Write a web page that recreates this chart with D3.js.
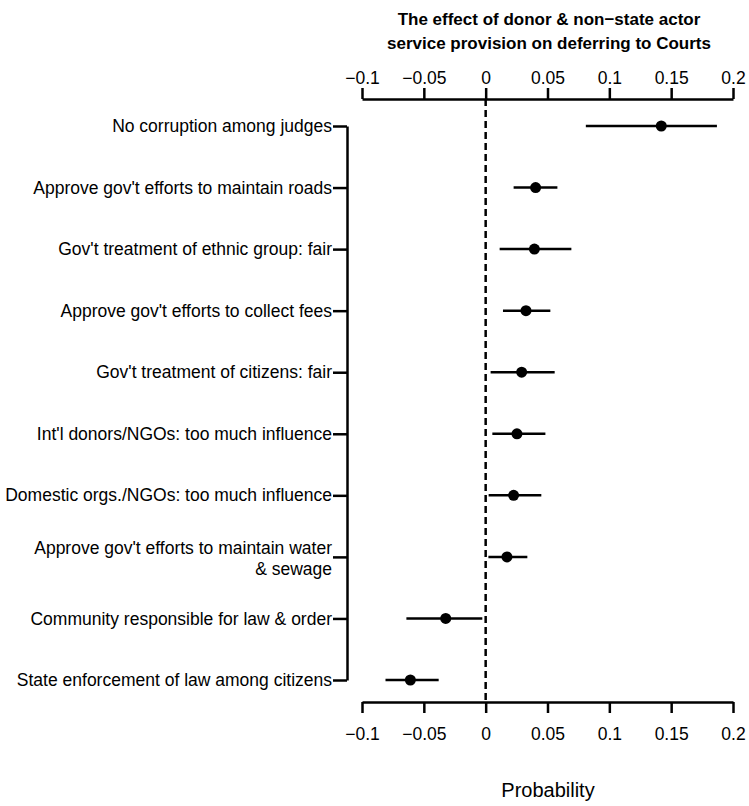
<!DOCTYPE html>
<html><head><meta charset="utf-8">
<script src="https://cdn.jsdelivr.net/npm/d3@7"></script>
<style>body{margin:0;background:#fff} text{font-family:"Liberation Sans",Arial,Helvetica,sans-serif;fill:#000}</style>
</head><body><svg id="c" width="749" height="806"></svg>
<script>
const categories = [
  "No corruption among judges",
  "Approve gov't efforts to maintain roads",
  "Gov't treatment of ethnic group: fair",
  "Approve gov't efforts to collect fees",
  "Gov't treatment of citizens: fair",
  "Int'l donors/NGOs: too much influence",
  "Domestic orgs./NGOs: too much influence",
  "Approve gov't efforts to maintain water\n& sewage",
  "Community responsible for law & order",
  "State enforcement of law among citizens"
];
const estimates = [0.142, 0.0404, 0.0394, 0.0326, 0.0291, 0.0253, 0.0226, 0.0172, -0.0323, -0.0609];
const lower     = [0.081, 0.0226, 0.0113, 0.0140, 0.0040, 0.0054, 0.0024, 0.0022, -0.0641, -0.0810];
const upper     = [0.187, 0.0580, 0.0693, 0.0523, 0.0558, 0.0483, 0.0450, 0.0337, -0.0027, -0.0380];
const tickValues = [-0.1, -0.05, 0, 0.05, 0.1, 0.15, 0.2];
const tickLabels = ["\u22120.1", "\u22120.05", "0", "0.05", "0.1", "0.15", "0.2"];
const titleLines = ["The effect of donor & non\u2212state actor", "service provision on deferring to Courts"];
const xTitle = "Probability";

const svg = d3.select("#c");
const x = d3.scaleLinear().domain([-0.1, 0.2]).range([362, 733]);
const y = d3.scalePoint().domain(categories).range([126, 680]);
const topY = 99, botY = 702, leftX = 347;

function styleAxis(g, fs) {
  g.attr("font-family", null).attr("font-size", null);
  g.select(".domain").attr("stroke", "#000").attr("stroke-width", 2.5);
  g.selectAll(".tick line").attr("stroke", "#000").attr("stroke-width", 2.5);
  g.selectAll(".tick text").style("font-size", fs + "px").attr("fill", "#000");
}

const fmt = (d) => tickLabels[tickValues.indexOf(d)];

const gTop = svg.append("g").attr("transform", `translate(0,${topY})`)
  .call(d3.axisTop(x).tickValues(tickValues).tickFormat(fmt).tickSize(11).tickSizeOuter(0).tickPadding(4));
styleAxis(gTop, 17.5);

const gBot = svg.append("g").attr("transform", `translate(0,${botY})`)
  .call(d3.axisBottom(x).tickValues(tickValues).tickFormat(fmt).tickSize(11).tickSizeOuter(0).tickPadding(15));
styleAxis(gBot, 17.5);

const gLeft = svg.append("g").attr("transform", `translate(${leftX},0)`)
  .call(d3.axisLeft(y).tickSize(14).tickSizeOuter(0).tickFormat(""));
styleAxis(gLeft, 17.5);

// category labels
categories.forEach((c) => {
  const lines = c.split("\n");
  const yc = y(c);
  const t = svg.append("text").attr("text-anchor", "end").style("font-size", "17.5px");
  if (lines.length === 1) {
    t.append("tspan").attr("x", 332).attr("y", yc).attr("dy", "0.35em").text(lines[0]);
  } else {
    t.append("tspan").attr("x", 332).attr("y", yc - 9).attr("dy", "0.35em").text(lines[0]);
    t.append("tspan").attr("x", 332).attr("y", yc + 12).attr("dy", "0.35em").text(lines[1]);
  }
});

// zero reference line
svg.append("line").attr("x1", x(0)).attr("x2", x(0)).attr("y1", topY).attr("y2", botY)
  .attr("stroke", "#000").attr("stroke-width", 2.5).attr("stroke-dasharray", "7,4");

// error bars
svg.append("g").selectAll("line").data(categories).join("line")
  .attr("x1", (d, i) => x(lower[i])).attr("x2", (d, i) => x(upper[i]))
  .attr("y1", (d) => y(d)).attr("y2", (d) => y(d))
  .attr("stroke", "#000").attr("stroke-width", 2.5);

// points
svg.append("g").selectAll("circle").data(categories).join("circle")
  .attr("cx", (d, i) => x(estimates[i])).attr("cy", (d) => y(d)).attr("r", 5.5).attr("fill", "#000");

// title
const tt = svg.append("text").attr("text-anchor", "middle").style("font-size", "17px").style("font-weight", "bold");
tt.append("tspan").attr("x", 549).attr("y", 25).text(titleLines[0]);
tt.append("tspan").attr("x", 549).attr("y", 49).text(titleLines[1]);

// x title
svg.append("text").attr("x", 548).attr("y", 797).attr("text-anchor", "middle").style("font-size", "20px").text(xTitle);
</script>
</body></html>
